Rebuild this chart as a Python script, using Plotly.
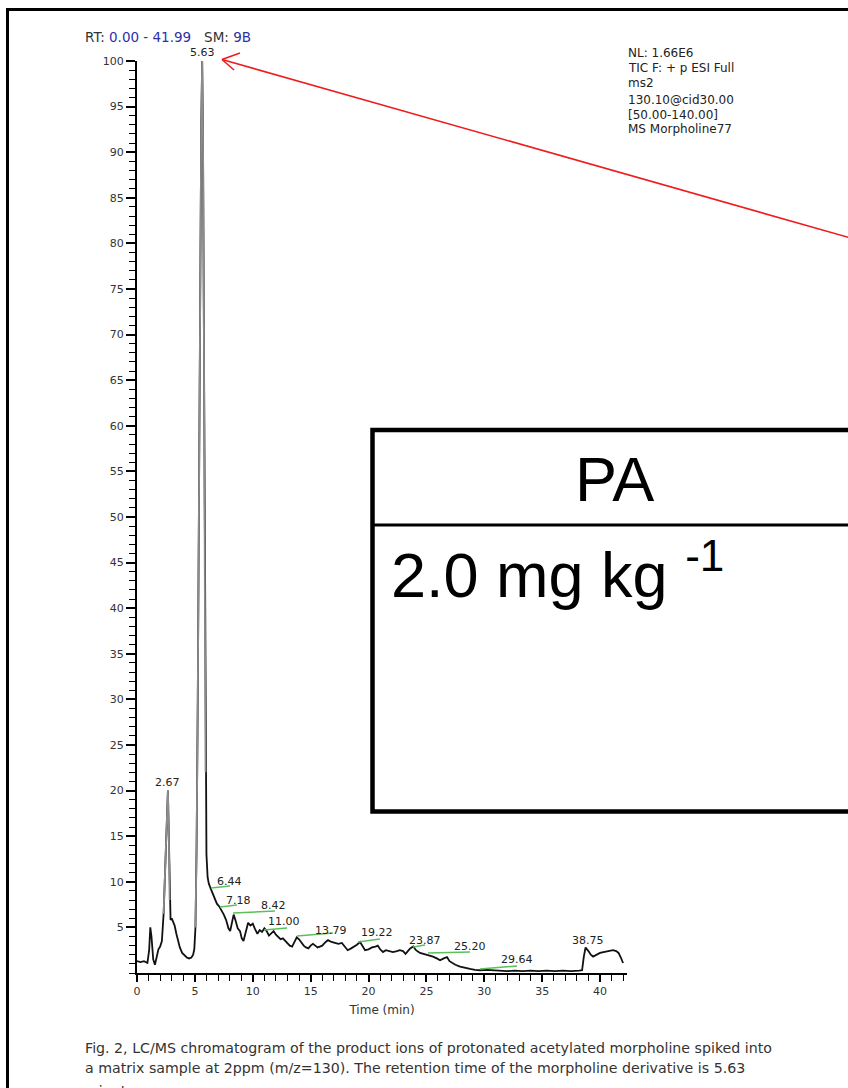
import plotly.graph_objects as go

# ---------------- data ----------------
time_min = [0.0, 0.3, 0.6, 0.9, 1.05, 1.15, 1.25, 1.4, 1.55, 1.7, 1.85, 2.0, 2.15, 2.3, 2.45, 2.55,
            2.67, 2.75, 2.82, 2.9, 3.0, 3.1, 3.25, 3.4, 3.55, 3.7, 3.9, 4.1, 4.3, 4.5, 4.7, 4.85,
            4.95, 5.05, 5.15, 5.25, 5.35, 5.45, 5.55, 5.63, 5.7, 5.78, 5.85, 5.92, 6.0, 6.1, 6.2,
            6.35, 6.5, 6.7, 6.9, 7.1, 7.3, 7.5, 7.7, 7.9, 8.05, 8.2, 8.35, 8.5, 8.7, 8.9, 9.05,
            9.2, 9.4, 9.6, 9.8, 10.0, 10.2, 10.4, 10.6, 10.8, 11.0, 11.2, 11.4, 11.6, 11.8, 12.0,
            12.2, 12.4, 12.6, 12.8, 13.0, 13.2, 13.4, 13.6, 13.8, 14.0, 14.2, 14.4, 14.6, 14.8,
            15.0, 15.2, 15.4, 15.6, 15.8, 16.0, 16.3, 16.5, 16.8, 17.1, 17.4, 17.7, 18.0, 18.2,
            18.5, 18.8, 19.0, 19.27, 19.5, 19.7, 20.0, 20.3, 20.6, 20.8, 21.0, 21.25, 21.5, 21.86,
            22.1, 22.46, 22.7, 22.98, 23.2, 23.4, 23.6, 23.87, 24.1, 24.45, 24.8, 25.05, 25.3,
            25.57, 25.9, 26.18, 26.5, 26.78, 27.0, 27.21, 27.5, 27.91, 28.3, 28.77, 29.2, 29.63,
            30.2, 30.76, 31.4, 31.97, 32.6, 33.3, 34.0, 34.7, 35.4, 36.1, 36.8, 37.5, 38.2, 38.45,
            38.6, 38.75, 39.0, 39.2, 39.4, 39.7, 40.0, 40.3, 40.6, 40.9, 41.12, 41.4, 41.6, 41.8,
            41.99]
rel_abundance = [1.3, 1.2, 1.3, 1.1, 2.5, 5.0, 4.0, 1.5, 0.9, 1.8, 2.6, 2.9, 3.5, 6.5, 12.0, 17.0,
                 20.0, 15.0, 8.0, 5.8, 6.0, 5.6, 5.2, 4.3, 3.5, 2.8, 2.2, 1.9, 1.7, 1.6, 1.7, 2.0,
                 2.6, 5.0, 14.0, 30.0, 55.0, 75.0, 93.0, 100.0, 92.0, 70.0, 45.0, 22.0, 13.0, 10.5,
                 9.8, 9.3, 8.8, 8.2, 7.6, 7.3, 6.9, 6.4, 5.8, 4.9, 4.6, 5.6, 6.4, 5.8, 4.9, 4.6, 3.8,
                 3.5, 4.4, 5.5, 5.2, 5.4, 4.8, 4.3, 4.7, 4.5, 4.9, 4.6, 4.1, 4.4, 4.6, 4.2,
                 3.9, 3.7, 3.8, 3.5, 3.3, 3.0, 2.9, 3.4, 3.9, 3.7, 3.3, 3.0, 2.8, 2.7,
                 3.0, 3.2, 3.0, 2.8, 2.9, 3.0, 3.4, 3.6, 3.4, 3.3, 3.2, 3.3, 2.8, 2.5,
                 2.7, 2.9, 3.1, 3.4, 2.9, 2.5, 2.6, 2.8, 2.9, 3.0, 2.6, 2.3, 2.5, 2.4,
                 2.3, 2.4, 2.5, 2.4, 2.1, 2.4, 2.7, 2.9, 2.5, 2.2, 2.1, 2.0, 1.9,
                 1.8, 1.6, 1.4, 1.6, 1.75, 1.3, 1.1, 0.9, 0.7, 0.55, 0.45, 0.35, 0.3,
                 0.35, 0.3, 0.25, 0.2, 0.25, 0.2, 0.25, 0.2, 0.25, 0.2, 0.25, 0.2, 0.25, 0.3,
                 1.8, 2.8, 2.4, 2.0, 1.8, 2.0, 2.2, 2.3, 2.4, 2.5, 2.5, 2.4, 2.2, 1.7,
                 1.1]

# peak labels: text, label centre (time, abundance)
peak_labels = ["5.63", "2.67", "6.44", "7.18", "8.42", "11.00", "13.79", "19.22", "23.87",
               "25.20", "29.64", "38.75"]
label_x = [5.63, 2.67, 7.99, 8.77, 11.75, 12.70, 16.76, 20.73, 24.88, 28.77, 32.83, 38.96]
label_y = [100.0, 20.0, 9.98, 8.0, 7.35, 5.70, 4.71, 4.39, 3.51, 2.96, 1.43, 3.51]

# green integration marks: start (time, abundance) -> end (time, abundance)
mark_x0 = [6.39, 7.17, 8.29, 10.97, 13.82, 19.09, 23.84, 25.14, 29.63]
mark_y0 = [9.32, 7.24, 6.58, 4.71, 4.06, 3.40, 2.85, 2.19, 0.44]
mark_x1 = [8.03, 8.64, 11.92, 12.96, 16.93, 20.99, 24.88, 28.77, 32.83]
mark_y1 = [9.54, 7.46, 6.80, 4.93, 4.39, 3.73, 3.07, 2.30, 0.77]

x_ticks = [0, 5, 10, 15, 20, 25, 30, 35, 40]
y_ticks = list(range(5, 101, 5))

info_lines = ["NL: 1.66E6", "TIC F: + p ESI Full", "ms2", "130.10@cid30.00",
              "[50.00-140.00]", "MS Morpholine77"]
caption_lines = [
    "Fig. 2, LC/MS chromatogram of the product ions of protonated acetylated morpholine spiked into",
    "a matrix sample at 2ppm (m/z=130). The retention time of the morpholine derivative is 5.63",
    "minutes.",
]

# ---------------- layout geometry (pixels) ----------------
W, H = 848, 1088
L, R, T, B = 137, 627, 61, 973


def px(xp):
    return (xp - L) / (R - L)


def py(yp):
    return (B - yp) / (B - T)


SMALL = "DejaVu Sans"
ARIAL = "Liberation Sans, Arial"

fig = go.Figure()

# whole trace
fig.add_trace(go.Scatter(x=time_min, y=rel_abundance, mode="lines",
                         line=dict(color="#111111", width=1.8), hoverinfo="skip",
                         showlegend=False, cliponaxis=False))

# peaks drawn in grey (as in the reference rendering)
for lo, hi in [(2.3, 2.82), (5.05, 5.92)]:
    xs = [t for t in time_min if lo <= t <= hi]
    ys = [v for t, v in zip(time_min, rel_abundance) if lo <= t <= hi]
    fig.add_trace(go.Scatter(x=xs, y=ys, mode="lines",
                             line=dict(color="#8c8c8c", width=1.8), hoverinfo="skip",
                             showlegend=False, cliponaxis=False))

# green marks
for a, b, c, d in zip(mark_x0, mark_y0, mark_x1, mark_y1):
    fig.add_trace(go.Scatter(x=[a, c], y=[b, d], mode="lines",
                             line=dict(color="#5cbf5c", width=1.5), hoverinfo="skip",
                             showlegend=False))

annotations = []
for txt, lx, ly in zip(peak_labels, label_x, label_y):
    top = txt in ("5.63", "2.67")
    annotations.append(dict(x=lx, y=ly, xref="x", yref="y", text=txt, showarrow=False,
                            yanchor="bottom" if top else "middle", xanchor="center",
                            font=dict(family=SMALL, size=11, color="#222222")))

annotations.append(dict(x=px(83), y=py(37), xref="paper", yref="paper", xanchor="left",
                        yanchor="middle", showarrow=False,
                        text="RT: <span style='color:#2f2fa8'>0.00 - 41.99</span>&nbsp;&nbsp;&nbsp;SM: "
                             "<span style='color:#2f2fa8'>9B</span>",
                        font=dict(family=SMALL, size=13.5, color="#333333")))

info_y = [53, 68, 83, 100, 115, 129]
for txt, yy in zip(info_lines, info_y):
    annotations.append(dict(x=px(626), y=py(yy), xref="paper", yref="paper", xanchor="left",
                            yanchor="middle", showarrow=False, text=txt,
                            font=dict(family=SMALL, size=12, color="#222222")))

cap_y = [1048, 1068, 1091]
for txt, yy in zip(caption_lines, cap_y):
    annotations.append(dict(x=px(83), y=py(yy), xref="paper", yref="paper", xanchor="left",
                            yanchor="middle", showarrow=False, text=txt,
                            font=dict(family=SMALL, size=14.2, color="#333333")))

# PA box texts
annotations.append(dict(x=px(614), y=py(479), xref="paper", yref="paper", xanchor="center",
                        yanchor="middle", showarrow=False, text="PA",
                        font=dict(family=ARIAL, size=63, color="black")))
annotations.append(dict(x=px(389), y=py(570), xref="paper", yref="paper", xanchor="left",
                        yanchor="middle", showarrow=False, text="2.0 mg kg <sup>-1</sup>",
                        font=dict(family=ARIAL, size=63, color="black")))

shapes = []
# outer frame
shapes.append(dict(type="rect", xref="paper", yref="paper", x0=px(7.5), x1=px(1000),
                   y0=py(9.5), y1=py(1300), line=dict(color="black", width=3),
                   fillcolor="rgba(0,0,0,0)", layer="above"))
# PA box
shapes.append(dict(type="rect", xref="paper", yref="paper", x0=px(372.5), x1=px(1000),
                   y0=py(430), y1=py(811.5), line=dict(color="black", width=4.5),
                   fillcolor="white", layer="above"))
shapes.append(dict(type="line", xref="paper", yref="paper", x0=px(372.5), x1=px(1000),
                   y0=py(525), y1=py(525), line=dict(color="black", width=3), layer="above"))
# red arrow
red = "#ee1c1c"
shapes.append(dict(type="line", xref="paper", yref="paper", x0=px(222), y0=py(59.5),
                   x1=px(900), y1=py(252), line=dict(color=red, width=1.6), layer="above"))
shapes.append(dict(type="line", xref="paper", yref="paper", x0=px(222), y0=py(59.5),
                   x1=px(240), y1=py(53), line=dict(color=red, width=1.6), layer="above"))
shapes.append(dict(type="line", xref="paper", yref="paper", x0=px(222), y0=py(59.5),
                   x1=px(234), y1=py(70), line=dict(color=red, width=1.6), layer="above"))

fig.update_layout(
    width=W, height=H, autosize=False,
    margin=dict(l=L, r=W - R, t=T, b=H - B, pad=0),
    paper_bgcolor="white", plot_bgcolor="white",
    showlegend=False,
    annotations=annotations,
    shapes=shapes,
    xaxis=dict(range=[0, 42.33], tickmode="array", tickvals=x_ticks,
               ticks="outside", ticklen=7, tickwidth=1.5, tickcolor="black",
               minor=dict(dtick=1, tick0=0, ticks="outside", ticklen=6, tickwidth=1.3,
                          tickcolor="black"),
               showline=True, linewidth=2, linecolor="black", showgrid=False,
               zeroline=False, tickfont=dict(family=SMALL, size=11, color="#333333"),
               title=dict(text="Time (min)", font=dict(family=SMALL, size=12, color="#333333"),
                          standoff=8)),
    yaxis=dict(range=[0, 100], tickmode="array", tickvals=y_ticks,
               ticks="outside", ticklen=9, tickwidth=1.5, tickcolor="black",
               minor=dict(dtick=1, tick0=0, ticks="outside", ticklen=6, tickwidth=1.3,
                          tickcolor="black"),
               showline=True, linewidth=2, linecolor="black", showgrid=False,
               zeroline=False, tickfont=dict(family=SMALL, size=11, color="#333333")),
)

fig.write_html("out.html")
